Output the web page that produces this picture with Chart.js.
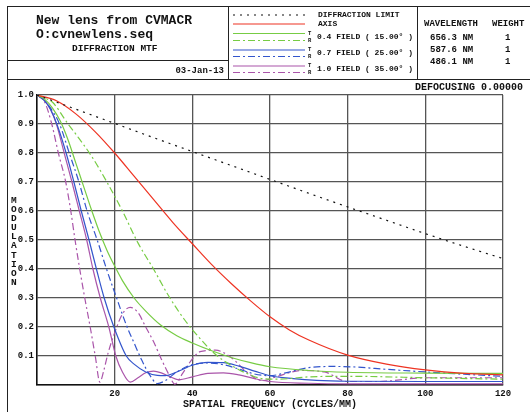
<!DOCTYPE html>
<html>
<head>
<meta charset="utf-8">
<script src="https://cdn.jsdelivr.net/npm/chart.js@4.4.0/dist/chart.umd.min.js"></script>
<style>
  body { margin: 0; background: #fff; }
  #wrap { position: relative; width: 530px; height: 412px; overflow: hidden;
          font-family: "Courier New", "Liberation Mono", monospace; font-weight: bold; color: #111; }
  #wrap canvas { position: absolute; left: 0; top: 0; }
  .ln { position: absolute; background: #222; }
  .t { position: absolute; white-space: pre; line-height: 1; }
  #ylab { position: absolute; left: 11px; top: 196px; width: 7px; font-size: 9.5px; line-height: 9.1px;
          word-break: break-all; white-space: normal; }
</style>
</head>
<body>
<div id="wrap">
  <canvas id="myChart" width="530" height="412"></canvas>

  <!-- header frame -->
  <div class="ln" style="left:7px;top:6px;width:523px;height:1px"></div>
  <div class="ln" style="left:7px;top:6px;width:1px;height:406px"></div>
  <div class="ln" style="left:228px;top:6px;width:1px;height:74px"></div>
  <div class="ln" style="left:417px;top:6px;width:1px;height:73px"></div>
  <div class="ln" style="left:7px;top:60px;width:221px;height:1px"></div>
  <div class="ln" style="left:7px;top:79px;width:523px;height:1px"></div>

  <div class="t" style="left:36px;top:14px;font-size:13px">New lens from CVMACR</div>
  <div class="t" style="left:36px;top:28px;font-size:13px">O:cvnewlens.seq</div>
  <div class="t" style="left:72px;top:44px;font-size:9.5px">DIFFRACTION MTF</div>
  <div class="t" style="right:306px;top:67px;font-size:9px">03-Jan-13</div>

  <svg style="position:absolute;left:233px;top:0" width="72" height="80">
    <line x1="0" x2="72" y1="15" y2="15" stroke="#111" stroke-width="1.2" stroke-dasharray="2 5"/>
    <line x1="0" x2="72" y1="24" y2="24" stroke="#ee3322" stroke-width="1.2"/>
    <line x1="0" x2="72" y1="33.5" y2="33.5" stroke="#77cc44" stroke-width="1.2"/>
    <line x1="0" x2="72" y1="40.5" y2="40.5" stroke="#77cc44" stroke-width="1.2" stroke-dasharray="7 3 2 3"/>
    <line x1="0" x2="72" y1="50" y2="50" stroke="#3355cc" stroke-width="1.2"/>
    <line x1="0" x2="72" y1="56.5" y2="56.5" stroke="#3355cc" stroke-width="1.2" stroke-dasharray="7 3 2 3"/>
    <line x1="0" x2="72" y1="66" y2="66" stroke="#aa55aa" stroke-width="1.2"/>
    <line x1="0" x2="72" y1="72.5" y2="72.5" stroke="#aa55aa" stroke-width="1.2" stroke-dasharray="7 3 2 3"/>
  </svg>
  <div class="t" style="left:318px;top:11px;font-size:8px">DIFFRACTION LIMIT</div>
  <div class="t" style="left:318px;top:20px;font-size:8px">AXIS</div>
  <div class="t" style="left:308px;top:31px;font-size:5.5px">T</div>
  <div class="t" style="left:308px;top:38px;font-size:5.5px">R</div>
  <div class="t" style="left:317px;top:33px;font-size:8px">0.4 FIELD ( 15.00° )</div>
  <div class="t" style="left:308px;top:47px;font-size:5.5px">T</div>
  <div class="t" style="left:308px;top:54px;font-size:5.5px">R</div>
  <div class="t" style="left:317px;top:49px;font-size:8px">0.7 FIELD ( 25.00° )</div>
  <div class="t" style="left:308px;top:63px;font-size:5.5px">T</div>
  <div class="t" style="left:308px;top:70px;font-size:5.5px">R</div>
  <div class="t" style="left:317px;top:65px;font-size:8px">1.0 FIELD ( 35.00° )</div>

  <div class="t" style="left:424px;top:20px;font-size:9px">WAVELENGTH</div>
  <div class="t" style="left:492px;top:20px;font-size:9px">WEIGHT</div>
  <div class="t" style="left:430px;top:34px;font-size:9px">656.3 NM</div>
  <div class="t" style="left:505px;top:34px;font-size:9px">1</div>
  <div class="t" style="left:430px;top:46px;font-size:9px">587.6 NM</div>
  <div class="t" style="left:505px;top:46px;font-size:9px">1</div>
  <div class="t" style="left:430px;top:58px;font-size:9px">486.1 NM</div>
  <div class="t" style="left:505px;top:58px;font-size:9px">1</div>

  <div class="t" style="right:7px;top:83px;font-size:10px">DEFOCUSING 0.00000</div>
  <div id="ylab">MODULATION</div>
</div>

<script>
// spatial frequency (cycles/mm) and modulation
const diffFreq = [0, 10, 20, 30, 40, 50, 60, 70, 80, 90, 100, 110, 120];
const diffMtf  = [1.0, 0.951, 0.902, 0.853, 0.805, 0.757, 0.709, 0.661, 0.614, 0.568, 0.522, 0.478, 0.436];

const axisFreq = [0, 5, 10, 15, 20, 25, 30, 35, 40, 45, 50, 55, 60, 65, 70, 80, 90, 100, 110, 120];
const axisMtf  = [1.0, 0.98, 0.935, 0.873, 0.80, 0.72, 0.64, 0.56, 0.487, 0.415, 0.35, 0.29, 0.235, 0.19, 0.155, 0.103, 0.072, 0.052, 0.04, 0.035];

const f04tFreq = [0, 2, 4, 6, 8, 10, 12, 14, 16, 18, 20, 22, 25, 28, 32, 36, 40, 45, 50, 55, 60, 70, 80, 100, 120];
const f04tMtf  = [1.0, 0.985, 0.955, 0.91, 0.845, 0.765, 0.685, 0.605, 0.53, 0.465, 0.41, 0.36, 0.30, 0.255, 0.205, 0.17, 0.145, 0.118, 0.095, 0.077, 0.063, 0.05, 0.044, 0.041, 0.04];

const f04rFreq = [0, 2, 4, 8, 10, 14, 18, 22, 26, 30, 34, 38, 42, 46, 50, 54, 58, 62, 70, 80, 100, 120];
const f04rMtf  = [1.0, 0.99, 0.975, 0.90, 0.865, 0.79, 0.70, 0.60, 0.49, 0.40, 0.305, 0.225, 0.16, 0.105, 0.068, 0.04, 0.022, 0.02, 0.028, 0.03, 0.025, 0.02];

const f07tFreq = [0, 2, 3.5, 5.1, 7.5, 9.5, 11.4, 13.4, 15.3, 17.3, 19.8, 23, 25, 28, 31, 33, 36, 40, 44, 48, 52, 56, 60, 66, 72, 80, 100, 120];
const f07tMtf  = [1.0, 0.98, 0.95, 0.90, 0.80, 0.70, 0.60, 0.50, 0.40, 0.30, 0.20, 0.10, 0.072, 0.045, 0.033, 0.032, 0.045, 0.068, 0.078, 0.077, 0.065, 0.048, 0.032, 0.022, 0.016, 0.013, 0.012, 0.012];

const f07rFreq = [0, 2, 3.5, 5.8, 8.3, 10.8, 12.9, 15.5, 17.9, 20.5, 23.2, 25, 27, 29, 31, 33, 36, 40, 44, 48, 52, 56, 60, 64, 70, 76, 82, 90, 100, 110, 120];
const f07rMtf  = [1.0, 0.98, 0.955, 0.90, 0.80, 0.70, 0.60, 0.50, 0.40, 0.30, 0.20, 0.145, 0.085, 0.035, 0.005, 0.015, 0.045, 0.07, 0.076, 0.07, 0.055, 0.038, 0.032, 0.042, 0.06, 0.064, 0.062, 0.054, 0.045, 0.037, 0.03];

const f10tFreq = [0, 2, 3.5, 5, 7, 9, 10.9, 12.8, 14.4, 16.3, 18.5, 20.3, 22, 24, 26, 28, 30, 32, 34, 36.5, 40, 44, 48, 52, 56, 60, 70, 80, 120];
const f10tMtf  = [1.0, 0.98, 0.95, 0.90, 0.80, 0.70, 0.60, 0.50, 0.40, 0.30, 0.20, 0.10, 0.045, 0.01, 0.025, 0.042, 0.048, 0.042, 0.03, 0.018, 0.028, 0.04, 0.042, 0.035, 0.022, 0.012, 0.006, 0.004, 0.004];

const f10rFreq = [0, 2, 3.8, 5.5, 7.4, 8.7, 9.8, 11, 12.3, 13.7, 15, 16.2, 17.2, 18.3, 20, 22, 24, 26, 28, 30, 32, 34, 35.5, 37.5, 40, 42, 46, 50, 54, 58, 62, 68, 74, 80, 88, 100, 120];
const f10rMtf  = [1.0, 0.975, 0.90, 0.80, 0.70, 0.60, 0.50, 0.40, 0.30, 0.20, 0.10, 0.01, 0.05, 0.11, 0.18, 0.245, 0.268, 0.25, 0.20, 0.15, 0.09, 0.035, 0.003, 0.04, 0.09, 0.115, 0.12, 0.095, 0.045, 0.015, 0.03, 0.05, 0.045, 0.012, 0.012, 0.025, 0.025];

const RED = '#ee3322', GREEN = '#77cc44', BLUE = '#3355cc', PURPLE = '#aa55aa';
const dashDot = [7, 3, 2, 3];

function pts(xs, ys) {
  return xs.map((x, i) => ({ x: x, y: ys[i] }));
}
function line(label, xs, ys, color, dash) {
  return {
    label: label,
    data: pts(xs, ys),
    borderColor: color,
    borderWidth: 1.2,
    borderDash: dash || [],
    pointRadius: 0,
    fill: false,
    cubicInterpolationMode: 'monotone'
  };
}

Chart.defaults.font.family = '"Courier New", "Liberation Mono", monospace';
Chart.defaults.font.weight = 'bold';
Chart.defaults.color = '#111';

const data = {
  datasets: [
    line('DIFFRACTION LIMIT', diffFreq, diffMtf, '#111', [2, 5]),
    line('AXIS', axisFreq, axisMtf, RED),
    line('0.4 FIELD T', f04tFreq, f04tMtf, GREEN),
    line('0.4 FIELD R', f04rFreq, f04rMtf, GREEN, dashDot),
    line('0.7 FIELD T', f07tFreq, f07tMtf, BLUE),
    line('0.7 FIELD R', f07rFreq, f07rMtf, BLUE, dashDot),
    line('1.0 FIELD T', f10tFreq, f10tMtf, PURPLE),
    line('1.0 FIELD R', f10rFreq, f10rMtf, PURPLE, dashDot)
  ]
};

const config = {
  type: 'line',
  data: data,
  options: {
    responsive: false,
    animation: false,
    devicePixelRatio: 1,
    layout: { padding: { left: 0, top: 95, right: 27, bottom: 0 } },
    plugins: { legend: { display: false }, tooltip: { enabled: false } },
    scales: {
      x: {
        type: 'linear', min: 0, max: 120,
        ticks: { stepSize: 20, padding: 3, font: { size: 9 },
                 callback: (v) => v === 0 ? '' : v },
        grid: { color: '#555', lineWidth: 1.3, drawTicks: false },
        border: { color: '#111', width: 1.5 },
        title: { display: true, text: 'SPATIAL FREQUENCY (CYCLES/MM)', font: { size: 10 },
                 padding: { top: 0, bottom: 2 } },
        afterFit: (s) => { s.height = 27; }
      },
      y: {
        min: 0, max: 1,
        ticks: { stepSize: 0.1, padding: 3, font: { size: 9 },
                 callback: (v) => Math.abs(v) < 1e-9 ? '' : v.toFixed(1) },
        grid: { color: '#555', lineWidth: 1.3, drawTicks: false },
        border: { color: '#111', width: 1.5 },
        afterFit: (s) => { s.width = 37; }
      }
    }
  }
};

let myChart = new Chart(document.getElementById('myChart'), config);
</script>
</body>
</html>
